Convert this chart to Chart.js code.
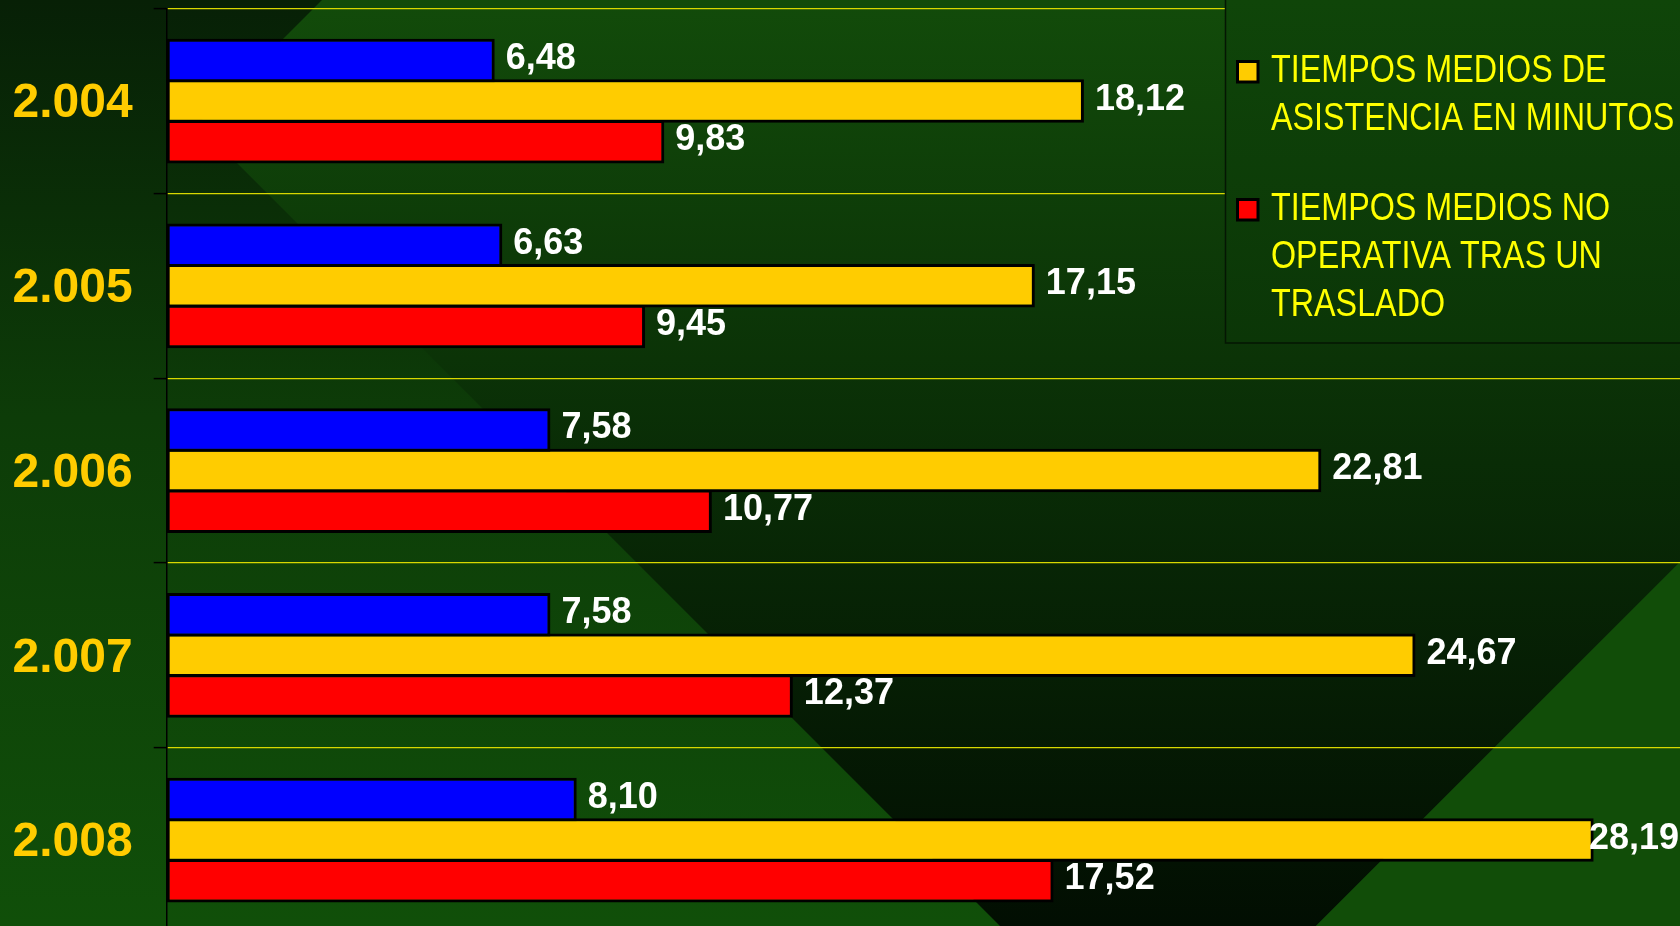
<!DOCTYPE html>
<html>
<head>
<meta charset="utf-8">
<script src="https://cdn.jsdelivr.net/npm/chart.js@4.4.1/dist/chart.umd.min.js"></script>
<style>
html,body{margin:0;padding:0;overflow:hidden;background:#0a3006;width:1680px;height:926px}
#wrap{position:absolute;left:0;top:0;width:1690px;height:940px}
canvas{display:block}
</style>
</head>
<body>
<div id="wrap"><canvas id="c" width="1690" height="940"></canvas></div>
<script>
// ---- data ----
const years = ['2.004', '2.005', '2.006', '2.007', '2.008'];
const serieAzul = [6.48, 6.63, 7.58, 7.58, 8.10];
const serieAmarilla = [18.12, 17.15, 22.81, 24.67, 28.19];
const serieRoja = [9.83, 9.45, 10.77, 12.37, 17.52];
const seriesLabels = ['Serie 1', 'TIEMPOS MEDIOS DE ASISTENCIA EN MINUTOS', 'TIEMPOS MEDIOS NO OPERATIVA TRAS UN TRASLADO'];
const legendLines = [[], ['TIEMPOS MEDIOS DE', 'ASISTENCIA EN MINUTOS'], ['TIEMPOS MEDIOS NO', 'OPERATIVA TRAS UN', 'TRASLADO']];
const seriesColors = ['#0000ff', '#ffcc00', '#ff0000'];
const xMin = 0, xMax = 30;

const FONT = '"Liberation Sans", Arial, sans-serif';

const bgPlugin = {
  id: 'bg',
  beforeDraw(chart) {
    const ctx = chart.ctx, W = chart.width, H = chart.height;
    ctx.save();
    let g = ctx.createLinearGradient(0, 0, 0, 926);
    g.addColorStop(0, '#072006');
    g.addColorStop(0.45, '#0d3c08');
    g.addColorStop(1, '#104f09');
    ctx.fillStyle = g;
    ctx.fillRect(0, 0, W, H);
    let g2 = ctx.createLinearGradient(0, 0, 0, 926);
    g2.addColorStop(0, '#124b0a');
    g2.addColorStop(0.5, '#092c06');
    g2.addColorStop(1, '#020e02');
    ctx.beginPath();
    ctx.moveTo(322, 0);
    ctx.lineTo(W, 0);
    ctx.lineTo(W, 2242 - W);
    ctx.lineTo(2242 - H, H);
    ctx.lineTo(H + 74, H);
    ctx.lineTo(198, 124);
    ctx.closePath();
    ctx.fillStyle = g2;
    ctx.fill();
    ctx.beginPath();
    ctx.moveTo(W, 2242 - W);
    ctx.lineTo(W, H);
    ctx.lineTo(2242 - H, H);
    ctx.closePath();
    ctx.fillStyle = '#114d08';
    ctx.fill();
    ctx.restore();
  }
};

const valuePlugin = {
  id: 'values',
  afterDatasetsDraw(chart) {
    const ctx = chart.ctx;
    ctx.save();
    ctx.font = 'bold 36px ' + FONT;
    ctx.fillStyle = '#ffffff';
    ctx.textAlign = 'left';
    ctx.textBaseline = 'alphabetic';
    chart.data.datasets.forEach((ds, i) => {
      const meta = chart.getDatasetMeta(i);
      meta.data.forEach((bar, j) => {
        const t = ds.data[j].toFixed(2).replace('.', ',');
        const w = ctx.measureText(t).width;
        const x = Math.min(bar.x + 11, 1679 - w);
        ctx.fillText(t, x, bar.y + 8.5);
      });
    });
    ctx.restore();
  }
};

const legendPlugin = {
  id: 'legendBox',
  afterDraw(chart) {
    const ctx = chart.ctx;
    ctx.save();
    const bx = 1225.5, by = -10, bw = 500, bh = 353;
    const g = ctx.createLinearGradient(0, 0, 0, 343);
    g.addColorStop(0, '#0f4509');
    g.addColorStop(1, '#0b3607');
    ctx.fillStyle = g;
    ctx.fillRect(bx, by, bw, bh);
    ctx.strokeStyle = '#041603';
    ctx.lineWidth = 1.5;
    ctx.strokeRect(bx, by, bw, bh);
    ctx.font = '38px ' + FONT;
    ctx.textBaseline = 'alphabetic';
    ctx.textAlign = 'left';
    let baseline = 82;
    [1, 2].forEach(i => {
      const ds = chart.data.datasets[i];
      ctx.fillStyle = '#000';
      ctx.fillRect(1236, baseline - 22, 23.5, 23.5);
      ctx.fillStyle = ds.backgroundColor;
      ctx.fillRect(1239, baseline - 19, 17.5, 17.5);
      ctx.fillStyle = '#ffff00';
      legendLines[i].forEach((line, k) => {
        ctx.save();
        ctx.translate(1271, baseline + k * 48);
        ctx.scale(0.85, 1);
        ctx.fillText(line, 0, 0);
        ctx.restore();
      });
      baseline += legendLines[i].length * 48 + 42;
    });
    ctx.restore();
  }
};

new Chart(document.getElementById('c'), {
  type: 'bar',
  data: {
    labels: years,
    datasets: [
      { label: seriesLabels[0], data: serieAzul, backgroundColor: seriesColors[0] },
      { label: seriesLabels[1], data: serieAmarilla, backgroundColor: seriesColors[1] },
      { label: seriesLabels[2], data: serieRoja, backgroundColor: seriesColors[2] }
    ]
  },
  options: {
    indexAxis: 'y',
    responsive: false,
    animation: false,
    devicePixelRatio: 1,
    layout: { padding: { top: 8.7, bottom: 7.6, right: 4.7, left: 0 } },
    datasets: {
      bar: {
        categoryPercentage: 0.66,
        barPercentage: 1.07,
        borderColor: '#000000',
        borderWidth: 3,
        borderSkipped: false
      }
    },
    plugins: { legend: { display: false }, tooltip: { enabled: false } },
    scales: {
      x: { display: false, min: xMin, max: xMax },
      y: {
        position: 'left',
        grid: { color: '#d8d800', lineWidth: 1.2, tickColor: '#000000', tickLength: 13, tickWidth: 1.5, offset: true },
        border: { color: '#000000', width: 1.5 },
        ticks: { color: '#ffcc00', font: { family: FONT, weight: 'bold', size: 48 }, padding: 21, labelOffset: 3 },
        afterFit(s) { s.width = 166.7; s.paddingTop = 0; s.paddingBottom = 0; }
      }
    }
  },
  plugins: [bgPlugin, valuePlugin, legendPlugin]
});
</script>
</body>
</html>
